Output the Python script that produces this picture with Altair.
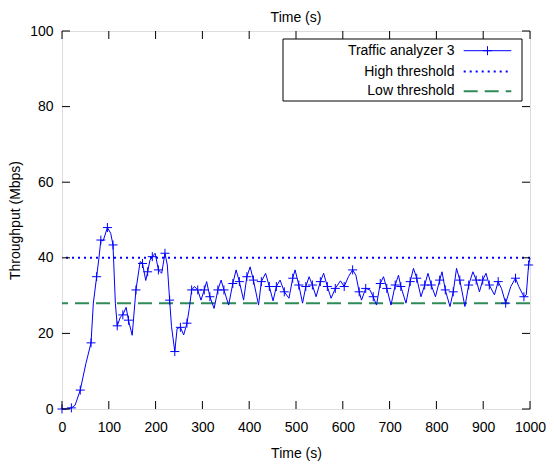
import altair as alt
import pandas as pd

# ---------------- data ----------------
time_s = [0, 10, 20, 28, 39, 51, 62, 67, 74, 79,
          83, 88, 97, 104, 109, 114, 118, 125, 130, 137,
          142, 150, 158, 167, 172, 179, 183, 188, 193, 199,
          206, 213, 220, 225, 230, 234, 241, 246, 253, 260,
          267, 272, 277, 283, 290, 297, 304, 309, 316, 325,
          333, 340, 346, 356, 365, 372, 379, 388, 395, 402,
          409, 420, 426, 435, 443, 451, 458, 466, 475, 485,
          493, 498, 506, 514, 521, 528, 535, 543, 552, 559,
          567, 575, 584, 595, 603, 612, 621, 628, 635, 640,
          649, 658, 665, 672, 680, 687, 694, 703, 712, 719,
          724, 735, 744, 751, 758, 767, 775, 782, 789, 798,
          807, 812, 819, 829, 836, 843, 850, 861, 869, 878,
          885, 892, 899, 906, 913, 924, 932, 939, 948, 959,
          969, 976, 987, 992, 997, 1000]
throughput = [0, 0, 0.3, 1, 5, 12, 17.5, 28, 35, 40,
              44.7, 44.5, 48, 46.5, 43.4, 28, 22, 24.4, 24.9, 26.9,
              23.5, 19.5, 31.5, 39, 38.5, 34, 36.3, 39.4, 40.3, 41.2,
              36.8, 35.9, 41.2, 38.1, 28.8, 21.8, 15.2, 21.3, 21.6, 19.6,
              22.7, 26.6, 31.5, 32.4, 31.5, 28.8, 31.5, 33.7, 29.7, 26.6,
              31.5, 34.1, 31.5, 27.5, 33.2, 36.8, 33.7, 28.8, 35, 37.6,
              34.1, 27.5, 33.7, 35.9, 32.4, 28.6, 32.4, 34.1, 31, 29.3,
              34.6, 36.8, 32.8, 28, 32.4, 35, 32.8, 29.7, 33.7, 35.9,
              32.4, 29.3, 31.9, 33.9, 32.4, 35, 36.8, 35.4, 31, 28.8,
              31.9, 31.5, 29.7, 27.5, 33.2, 35, 31.9, 27.5, 32.8, 35.4,
              32.4, 28, 33.7, 37.2, 34.6, 29.7, 32.8, 35.9, 32.8, 29.7,
              34.1, 36.3, 31.5, 27.1, 31, 37.2, 34.1, 27.1, 32.8, 36.3,
              34.1, 31, 34.1, 35.9, 32.8, 30.2, 33.7, 31.9, 28, 32.4,
              34.6, 32.4, 29.7, 30.2, 38.1, 39.9]
high_threshold = [40]
low_threshold = [28]
x_ticks = [0, 100, 200, 300, 400, 500, 600, 700, 800, 900, 1000]
y_ticks = [0, 20, 40, 60, 80, 100]
legend_labels = ["Traffic analyzer 3", "High threshold", "Low threshold"]

# ---------------- styling ----------------
W, H = 468, 378
FONT = "Liberation Sans"
FS = 14
BLUE = "#0000ff"
GREEN = "#2e8b57"
PLUS = "M-1,0L1,0M0,-1L0,1"
TICK = 8

df = pd.DataFrame({"t": time_s, "v": throughput})
df["i"] = range(len(df))

xs = alt.Scale(domain=[0, 1000], nice=False, zero=False)
ys = alt.Scale(domain=[0, 100], nice=False, zero=False)

x_axis = alt.Axis(values=x_ticks, ticks=False, domain=False, grid=False, format="d",
                  labelPadding=11, title="Time (s)", titlePadding=12,
                  labelFontSize=FS, titleFontSize=FS, labelFont=FONT, titleFont=FONT,
                  titleFontWeight="normal", labelColor="black", titleColor="black",
                  labelFlush=False)
y_axis = alt.Axis(values=y_ticks, ticks=False, domain=False, grid=False, format="d",
                  labelPadding=9, title="Throughput (Mbps)", titlePadding=7,
                  labelFontSize=FS, titleFontSize=FS, labelFont=FONT, titleFont=FONT,
                  titleFontWeight="normal", labelColor="black", titleColor="black",
                  labelFlush=False)


def X():
    return alt.X("t:Q", scale=xs, axis=x_axis)


def Y():
    return alt.Y("v:Q", scale=ys, axis=y_axis)


line = alt.Chart(df).mark_line(color=BLUE, strokeWidth=1).encode(x=X(), y=Y())
points = alt.Chart(df).transform_filter("datum.i % 2 == 0").mark_point(
    shape=PLUS, size=81, color=BLUE, filled=False, strokeWidth=1, opacity=1
).encode(x=X(), y=Y())

high = alt.Chart(pd.DataFrame({"v": high_threshold})).mark_rule(
    color=BLUE, strokeWidth=2, strokeDash=[2, 4]
).encode(y=Y())
low = alt.Chart(pd.DataFrame({"v": low_threshold})).mark_rule(
    color=GREEN, strokeWidth=2, strokeDash=[14, 7]
).encode(y=Y())

xt = pd.DataFrame({"t": x_ticks})
yt = pd.DataFrame({"v": y_ticks})
tick_bottom = alt.Chart(xt).mark_rule(color="black", strokeWidth=1).encode(
    x=X(), y=alt.value(H), y2=alt.value(H - TICK))
tick_top = alt.Chart(xt).mark_rule(color="black", strokeWidth=1).encode(
    x=X(), y=alt.value(0), y2=alt.value(TICK))
tick_left = alt.Chart(yt).mark_rule(color="black", strokeWidth=1).encode(
    y=Y(), x=alt.value(0), x2=alt.value(TICK))
tick_right = alt.Chart(yt).mark_rule(color="black", strokeWidth=1).encode(
    y=Y(), x=alt.value(W), x2=alt.value(W - TICK))

one = alt.Data(values=[{}])
BX2 = W - 8
BX1 = BX2 - 239
legend_box = alt.Chart(one).mark_rect(fill="white", stroke="black", strokeWidth=1).encode(
    x=alt.value(BX1), x2=alt.value(BX2), y=alt.value(8), y2=alt.value(70))

row_y = [19.7, 40.5, 60.3]
sx1, sx2, tx = BX2 - 58.3, BX2 - 10.7, BX2 - 67.5
legend_layers = [legend_box]
for lab, yy in zip(legend_labels, row_y):
    legend_layers.append(
        alt.Chart(pd.DataFrame({"label": [lab]})).mark_text(
            align="right", baseline="middle", font=FONT, fontSize=FS, color="black"
        ).encode(text="label:N", x=alt.value(tx), y=alt.value(yy))
    )
legend_layers.append(alt.Chart(one).mark_rule(color=BLUE, strokeWidth=1).encode(
    x=alt.value(sx1), x2=alt.value(sx2), y=alt.value(row_y[0])))
legend_layers.append(alt.Chart(one).mark_point(
    shape=PLUS, size=81, color=BLUE, filled=False, strokeWidth=1, opacity=1
).encode(x=alt.value((sx1 + sx2) / 2), y=alt.value(row_y[0])))
legend_layers.append(alt.Chart(one).mark_rule(color=BLUE, strokeWidth=2, strokeDash=[2, 4]).encode(
    x=alt.value(sx1), x2=alt.value(sx2), y=alt.value(row_y[1])))
legend_layers.append(alt.Chart(one).mark_rule(color=GREEN, strokeWidth=2, strokeDash=[14, 7]).encode(
    x=alt.value(sx1), x2=alt.value(sx2), y=alt.value(row_y[2])))

chart = alt.layer(
    high, low, line, points, tick_bottom, tick_top, tick_left, tick_right, *legend_layers
).properties(
    width=W, height=H,
    padding={"left": 54, "top": 23, "right": 16, "bottom": 52},
    autosize=alt.AutoSizeParams(type="none"),
    title=alt.TitleParams("Time (s)", font=FONT, fontSize=FS, fontWeight="normal",
                          color="black", anchor="middle", offset=-1),
).configure_view(stroke="black", strokeWidth=1).configure(background="white")

chart.save("out.html", embed_options={"renderer": "svg", "actions": False})
